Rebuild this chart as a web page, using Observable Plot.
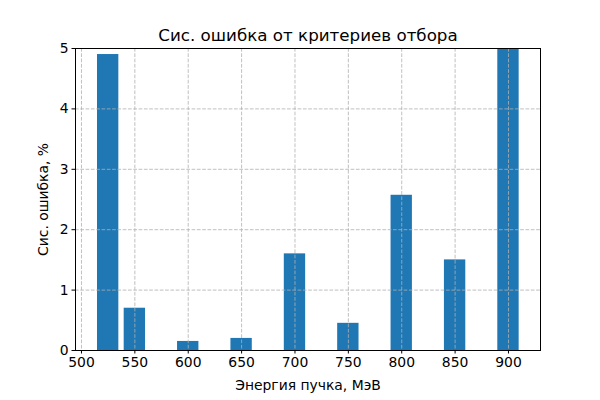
<!DOCTYPE html>
<html><head><meta charset="utf-8">
<script src="https://cdn.jsdelivr.net/npm/d3@7"></script>
<script src="https://cdn.jsdelivr.net/npm/@observablehq/plot@0.6"></script>
<style>body{margin:0;background:#fff}</style>
</head><body><div id="chart"></div>
<script>
const energies = [525, 550, 600, 650, 700, 750, 800, 850, 900];
const errors = [4.9, 0.7, 0.15, 0.2, 1.6, 0.45, 2.57, 1.5, 5.0];
const xTicks = [500, 550, 600, 650, 700, 750, 800, 850, 900];
const yTicks = [0, 1, 2, 3, 4, 5];
const titleText = "Сис. ошибка от критериев отбора";
const xLabel = "Энергия пучка, МэВ";
const yLabel = "Сис. ошибка, %";
const barWidth = 20;

const data = energies.map((e, i) => ({energy: e, error: errors[i]}));
const grid = {stroke: "#b0b0b0", strokeOpacity: 1, strokeDasharray: "3.7,1.6", strokeWidth: 0.8};

const plot = Plot.plot({
  width: 600, height: 400,
  marginLeft: 75, marginRight: 60, marginTop: 48, marginBottom: 50,
  style: {fontFamily: "DejaVu Sans", fontSize: "13.9px", color: "#000", background: "#fff"},
  x: {domain: [494.4, 930], label: null},
  y: {domain: [0, 5], label: null},
  marks: [
    Plot.rectY(data, {x1: d => d.energy - barWidth / 2, x2: d => d.energy + barWidth / 2, y1: 0, y2: "error", fill: "#1f77b4", clip: true}),
    Plot.gridX(xTicks, grid),
    Plot.gridY(yTicks, grid),
    Plot.frame({stroke: "#000", strokeWidth: 1}),
    Plot.axisX(xTicks, {tickSize: 3.5, tickPadding: 3.5, label: null, stroke: "#000", fill: "#000", tickFormat: d3.format("d")}),
    Plot.axisY(yTicks, {tickSize: 3.5, tickPadding: 3.5, label: null, stroke: "#000", fill: "#000", tickFormat: d3.format("d")}),
    Plot.text([xLabel], {frameAnchor: "bottom", lineAnchor: "middle", dy: 35, fill: "#000", fontSize: 13.9}),
    Plot.text([yLabel], {frameAnchor: "left", textAnchor: "middle", lineAnchor: "middle", dx: -32, rotate: -90, fill: "#000", fontSize: 13.9}),
    Plot.text([titleText], {frameAnchor: "top", lineAnchor: "middle", dy: -13, fill: "#000", fontSize: 16.7})
  ]
});
document.getElementById("chart").append(plot);
</script>
</body></html>
